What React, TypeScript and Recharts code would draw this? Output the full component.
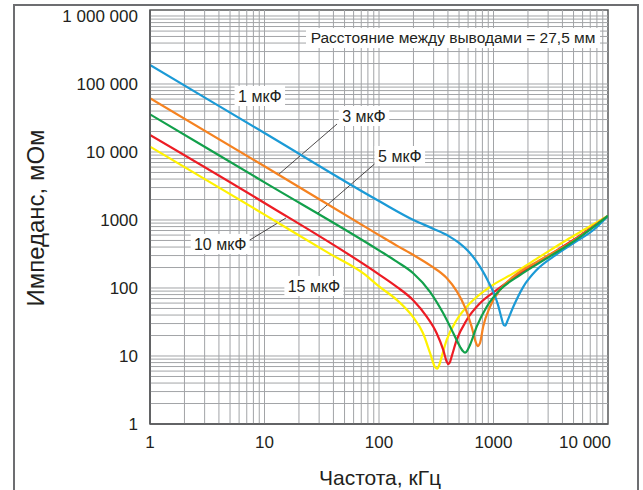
import { Line, LineChart, ReferenceArea, ReferenceDot, ReferenceLine, XAxis, YAxis } from "recharts";

const FONT = "'Liberation Sans', Arial, sans-serif";
const INK = "#231f20";
const GRID = "#a2a4a7";

// Impedance curves: [frequency, kHz ; impedance, mOhm]
const cap1uF: [number, number][] = [
  [1, 190000], [10, 19000], [100, 1900], [200, 1000], [300, 740], [400, 590], [500, 460],
  [600, 350], [700, 255], [800, 180], [900, 125], [1000, 86], [1100, 55], [1170, 37],
  [1230, 28.5], [1270, 28], [1320, 32.5], [1489, 53], [1820, 104], [2380, 184], [3330, 289],
  [4980, 454], [7450, 713], [10000, 1150],
];
const cap3uF: [number, number][] = [
  [1, 61600], [10, 6160], [100, 600], [143, 420], [200, 305], [280, 215], [390, 140],
  [477, 90], [564, 52], [644, 27], [700, 16], [726, 14], [762, 15.5], [812, 27], [932, 53],
  [1140, 94], [1490, 147], [2550, 258], [4600, 454], [10000, 1150],
];
const cap5uF: [number, number][] = [
  [1, 35800], [10, 3580], [100, 358], [143, 244], [199, 165], [279, 88], [364, 42.5],
  [446, 21.6], [510, 13.7], [540, 11.8], [564, 11.2], [590, 12], [623, 14.5], [713, 27],
  [873, 53], [1140, 94], [1703, 155], [2915, 273], [4977, 480], [10000, 1150],
];
const cap10uF: [number, number][] = [
  [1, 17800], [10, 1780], [102, 155], [143, 104], [198, 66.6], [261, 37.8], [319, 21.6],
  [364, 12.3], [390, 8.3], [403, 7.6], [415, 8], [431, 9.8], [477, 17.2], [583, 33.8],
  [762, 59.6], [1067, 93.6], [1703, 164], [2915, 289], [4977, 508], [10000, 1150],
];
const cap15uF: [number, number][] = [
  [1, 12000], [10, 1200], [37, 320], [73, 164], [102, 103], [143, 67], [198, 37.5],
  [242, 21.8], [279, 11.1], [308, 6.9], [323, 6.5], [337, 7.5], [353, 9.8], [390, 17.2],
  [477, 33.8], [623, 59.6], [932, 104], [1489, 164], [2547, 289], [4357, 508], [6516, 755],
  [10000, 1156],
];

const xTicks = [1, 10, 100, 1000, 10000];
const yTicks = [1, 10, 100, 1000, 10000, 100000, 1000000];
const steps = [1, 2, 3, 4, 5, 6, 7, 8, 9];
const xGrid = xTicks.flatMap((d) => steps.map((s) => d * s)).filter((v) => v > 1 && v < 10000);
const yGrid = yTicks.flatMap((d) => steps.map((s) => d * s)).filter((v) => v > 1 && v <= 1000000);

const series = [
  { key: "15", color: "#fff200", rows: cap15uF },
  { key: "10", color: "#ed1c24", rows: cap10uF },
  { key: "3", color: "#f58220", rows: cap3uF },
  { key: "1", color: "#1b9ad6", rows: cap1uF },
  { key: "5", color: "#12a04b", rows: cap5uF },
];

// curve labels, placed in data coordinates
const labels = [
  { text: "1 мкФ", f: 9.1, z: 66600 },
  { text: "3 мкФ", f: 74, z: 33800 },
  { text: "5 мкФ", f: 152, z: 8730 },
  { text: "10 мкФ", f: 4.1, z: 444 },
  { text: "15 мкФ", f: 27, z: 107 },
];
const leaders = [
  { from: [13.1, 4590], to: [43, 25800] },
  { from: [29.3, 1268], to: [98, 7380] },
  { from: [7.2, 491], to: [15.4, 1070] },
];

const fmt = (v: number) => (v >= 10000 ? String(v).replace(/\B(?=(\d{3})+(?!\d))/g, " ") : String(v));

function LabelBox({ cx, cy, text, w, size }: any) {
  const width = w ?? text.length * 8.5 + 8;
  return (
    <g>
      <rect x={cx - width / 2} y={cy - 10} width={width} height={20} fill="#fff" />
      <text x={cx} y={cy} dy="0.35em" textAnchor="middle" fontSize={size ?? 16} fontFamily={FONT} fill={INK}>
        {text}
      </text>
    </g>
  );
}

function XTick({ x, y, payload, index }: any) {
  const last = index === xTicks.length - 1;
  return (
    <text x={last ? x + 3 : x} y={y} dy="0.71em" textAnchor={last ? "end" : "middle"} fontSize={17} fontFamily={FONT} fill={INK}>
      {fmt(payload.value)}
    </text>
  );
}

function YTick({ x, y, payload }: any) {
  return (
    <text x={x} y={y} dy="0.35em" textAnchor="end" fontSize={17} fontFamily={FONT} fill={INK}>
      {fmt(payload.value)}
    </text>
  );
}

export default function App() {
  return (
    <div style={{ position: "absolute", left: 0, top: 0, width: 643, height: 490, background: "#fff", overflow: "hidden" }}>
      <div style={{ position: "absolute", left: 13, top: 4, width: 622, height: 520, border: "2px solid #6d6e71" }} />
      <div style={{ position: "absolute", left: 0, top: 0 }}>
        <LineChart width={643} height={490} margin={{ top: 10, right: 35, bottom: 0, left: 0 }}>
          <XAxis
            dataKey="f"
            type="number"
            scale="log"
            domain={[1, 10000]}
            allowDataOverflow
            ticks={xTicks}
            tick={<XTick />}
            tickLine={false}
            tickSize={0}
            tickMargin={12}
            height={66}
            axisLine={{ stroke: "#58595b", strokeWidth: 1.5 }}
            label={{
              content: () => (
                <text x={380} y={478} dy="0.35em" textAnchor="middle" fontSize={21} fontFamily={FONT} fill={INK}>
                  Частота, кГц
                </text>
              ),
            }}
          />
          <YAxis
            dataKey="z"
            type="number"
            scale="log"
            domain={[1, 1225000]}
            allowDataOverflow
            ticks={yTicks}
            tick={<YTick />}
            tickLine={false}
            tickSize={0}
            tickMargin={12}
            width={150}
            axisLine={{ stroke: "#58595b", strokeWidth: 1.5 }}
            label={{
              content: () => (
                <text x={36} y={218} dy="0.35em" transform="rotate(-90 36 218)" textAnchor="middle" fontSize={24} fontFamily={FONT} fill={INK}>
                  Импеданс, мОм
                </text>
              ),
            }}
          />
          {xGrid.map((v) => (
            <ReferenceLine key={"x" + v} x={v} stroke={GRID} strokeWidth={1} />
          ))}
          {yGrid.map((v) => (
            <ReferenceLine key={"y" + v} y={v} stroke={GRID} strokeWidth={1} />
          ))}
          <ReferenceArea x1={1} x2={10000} y1={1} y2={1225000} fill="none" stroke="#58595b" strokeWidth={1.5} ifOverflow="visible" />
          {leaders.map((l, i) => (
            <ReferenceLine
              key={i}
              segment={[{ x: l.from[0], y: l.from[1] }, { x: l.to[0], y: l.to[1] }]}
              stroke={INK}
              strokeWidth={0.8}
            />
          ))}
          {series.map((s) => (
            <Line
              key={s.key}
              data={s.rows.map(([f, z]) => ({ f, z }))}
              dataKey="z"
              type="monotone"
              stroke={s.color}
              strokeWidth={2.2}
              dot={false}
              isAnimationActive={false}
            />
          ))}
          {labels.map((l) => (
            <ReferenceDot key={l.text} x={l.f} y={l.z} shape={(p: any) => <LabelBox cx={p.cx} cy={p.cy} text={l.text} />} />
          ))}
          <ReferenceDot
            x={443}
            y={474000}
            shape={(p: any) => <LabelBox cx={p.cx} cy={p.cy} text="Расстояние между выводами = 27,5 мм" w={294} size={15.5} />}
          />
        </LineChart>
      </div>
    </div>
  );
}
